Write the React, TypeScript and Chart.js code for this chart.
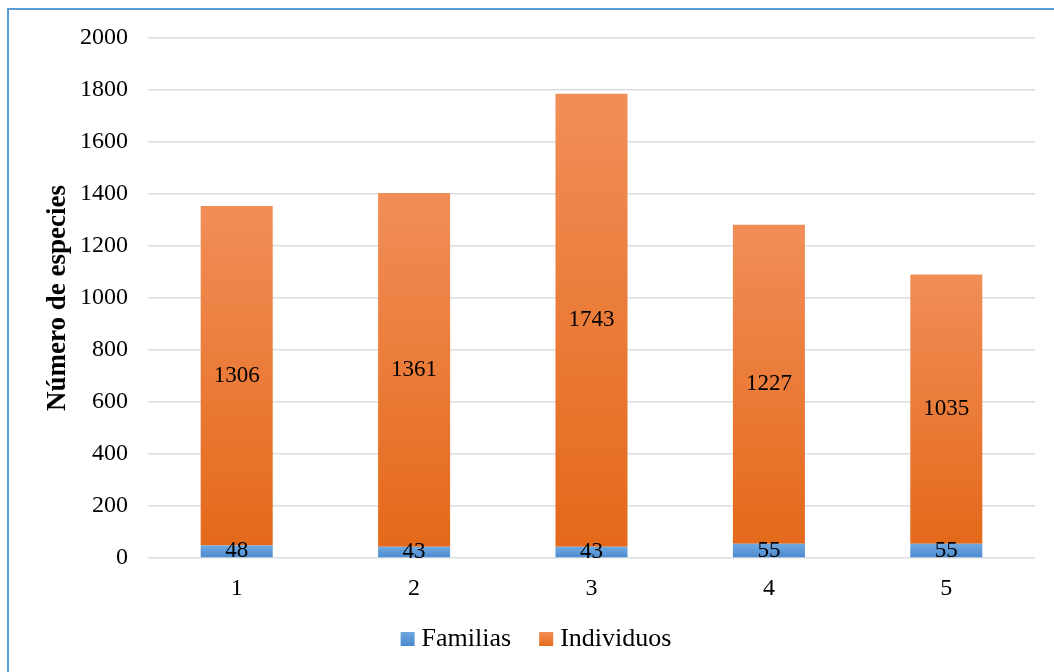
import React, { useEffect, useRef } from "react";
import { Chart, registerables } from "chart.js";

Chart.register(...registerables);

// Sitios muestreados y conteos por sitio
const categories = ["1", "2", "3", "4", "5"];
const familias = [48, 43, 43, 55, 55];
const individuos = [1306, 1361, 1743, 1227, 1035];
const yTicks = [0, 200, 400, 600, 800, 1000, 1200, 1400, 1600, 1800, 2000];
const seriesNames = ["Familias", "Individuos"];

const SERIF = "'Liberation Serif', 'Times New Roman', serif";

// Per-bar vertical gradient, light at the top and darker at the base
function barGradient(ctx: any, top: string, bottom: string) {
  const chart = ctx.chart;
  const y = chart.scales?.y;
  if (!y || ctx.dataIndex === undefined) return bottom;
  const i = ctx.dataIndex;
  const lower = ctx.datasetIndex === 0 ? 0 : familias[i];
  const upper = ctx.datasetIndex === 0 ? familias[i] : familias[i] + individuos[i];
  const y0 = y.getPixelForValue(upper);
  const y1 = y.getPixelForValue(lower);
  if (!isFinite(y0) || !isFinite(y1) || y0 === y1) return bottom;
  const g = chart.ctx.createLinearGradient(0, y0, 0, y1);
  g.addColorStop(0, top);
  g.addColorStop(1, bottom);
  return g;
}

// Writes each segment's value in the middle of its bar
const valueLabels = {
  id: "valueLabels",
  afterDatasetsDraw(chart: any) {
    const ctx = chart.ctx;
    ctx.save();
    ctx.font = `23px ${SERIF}`;
    ctx.fillStyle = "#000000";
    ctx.textAlign = "center";
    ctx.textBaseline = "middle";
    chart.data.datasets.forEach((ds: any, di: number) => {
      const meta = chart.getDatasetMeta(di);
      meta.data.forEach((bar: any, i: number) => {
        const { x, y, base } = bar.getProps(["x", "y", "base"], true);
        ctx.fillText(String(ds.data[i]), x, (y + base) / 2);
      });
    });
    ctx.restore();
  },
};

// Legend row below the axis: small square swatch followed by the series name
const bottomLegend = {
  id: "bottomLegend",
  afterDraw(chart: any) {
    const ctx = chart.ctx;
    const box = 14;
    const gap = 7;
    const itemGap = 28;
    const centerX = 536;
    const centerY = 639;
    ctx.save();
    ctx.font = `26px ${SERIF}`;
    ctx.textBaseline = "middle";
    ctx.textAlign = "left";
    const widths = seriesNames.map((n) => ctx.measureText(n).width);
    const total =
      widths.reduce((a, w) => a + box + gap + w, 0) + itemGap * (seriesNames.length - 1);
    let x = centerX - total / 2;
    seriesNames.forEach((name, k) => {
      const g = ctx.createLinearGradient(0, centerY - box / 2, 0, centerY + box / 2);
      g.addColorStop(0, k === 0 ? "#6FA7DE" : "#F28D55");
      g.addColorStop(1, k === 0 ? "#4A89CF" : "#E66C1C");
      ctx.fillStyle = g;
      ctx.fillRect(x, centerY - box / 2, box, box);
      ctx.fillStyle = "#000000";
      ctx.fillText(name, x + box + gap, centerY);
      x += box + gap + widths[k] + itemGap;
    });
    ctx.restore();
  },
};

export default function App() {
  const canvasRef = useRef<HTMLCanvasElement | null>(null);

  useEffect(() => {
    if (!canvasRef.current) return;
    const chart = new Chart(canvasRef.current, {
      type: "bar",
      data: {
        labels: categories,
        datasets: [
          {
            label: seriesNames[0],
            data: familias,
            backgroundColor: (c: any) => barGradient(c, "#70A9E0", "#4A89CF"),
            barPercentage: 0.406,
            categoryPercentage: 1,
          },
          {
            label: seriesNames[1],
            data: individuos,
            backgroundColor: (c: any) => barGradient(c, "#F18E58", "#E4691A"),
            barPercentage: 0.406,
            categoryPercentage: 1,
          },
        ],
      },
      options: {
        responsive: false,
        animation: false,
        layout: { padding: { top: 38, right: 19, bottom: 66, left: 0 } },
        plugins: {
          tooltip: { enabled: false },
          legend: { display: false },
        },
        scales: {
          x: {
            stacked: true,
            grid: { display: false },
            border: { display: false },
            ticks: { color: "#000000", font: { family: SERIF, size: 24 }, padding: 8 },
            afterFit: (s: any) => {
              s.height = 48;
            },
          },
          y: {
            stacked: true,
            min: 0,
            max: 2000,
            afterBuildTicks: (s: any) => {
              s.ticks = yTicks.map((v) => ({ value: v }));
            },
            grid: { color: "#DADDE2", lineWidth: 1.5, drawTicks: false },
            border: { display: false },
            ticks: {
              color: "#000000",
              font: { family: SERIF, size: 24 },
              padding: 20,
              callback: (v: any) => String(v),
            },
            title: {
              display: true,
              text: "Número de especies",
              color: "#000000",
              font: { family: SERIF, size: 27, weight: "bold" },
              padding: { top: 42, bottom: 0 },
            },
            afterFit: (s: any) => {
              s.width = 148;
            },
          },
        },
      },
      plugins: [valueLabels, bottomLegend],
    });
    return () => chart.destroy();
  }, []);

  return (
    <div
      style={{
        position: "fixed",
        left: 0,
        top: 0,
        width: 1054,
        height: 672,
        overflow: "hidden",
        background: "#FFFFFF",
      }}
    >
      <canvas
        ref={canvasRef}
        width={1054}
        height={672}
        style={{ position: "absolute", left: 0, top: 0, width: 1054, height: 672 }}
      />
      <div
        style={{
          position: "absolute",
          left: 7,
          top: 8,
          width: 1100,
          height: 700,
          borderLeft: "2px solid #5B9BD5",
          borderTop: "2px solid #5B9BD5",
          pointerEvents: "none",
        }}
      />
    </div>
  );
}
